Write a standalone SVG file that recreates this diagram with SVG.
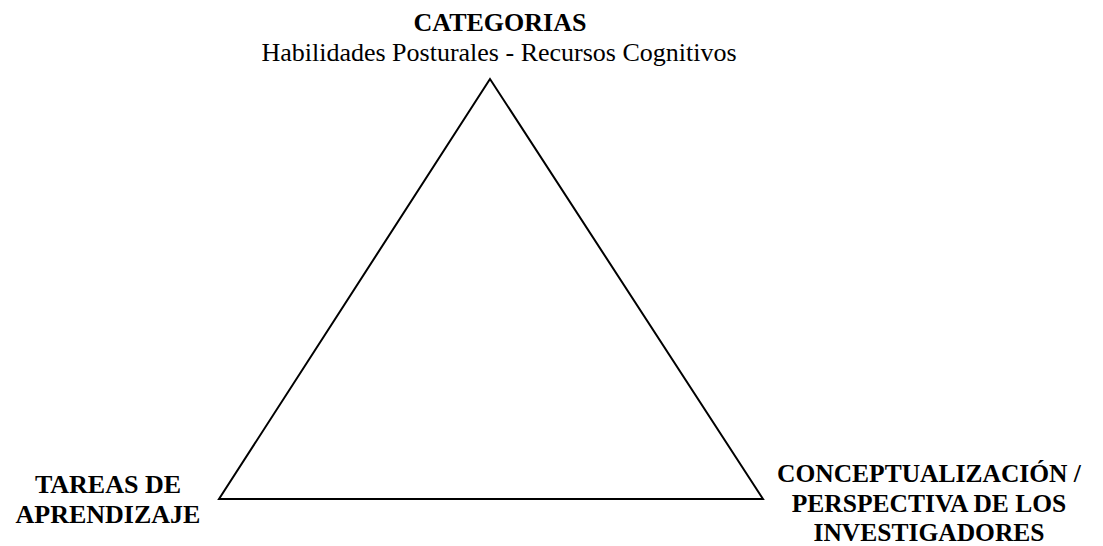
<svg xmlns="http://www.w3.org/2000/svg" width="1103" height="546" viewBox="0 0 1103 546">
<style>
text{font-family:"Liberation Serif","Times New Roman",serif;fill:#000;text-anchor:middle}
.b{font-weight:bold;font-size:26px}
.n{font-size:26px}
.r{font-weight:bold;font-size:25.5px}
.tri{fill:none;stroke:#000;stroke-width:2;stroke-linejoin:miter}
</style>
<rect width="1103" height="546" fill="#fff"/>
<g id="connectors">
<polygon class="tri" points="490,79 219,499 763,499"/>
</g>
<g id="categorias">
<text class="b" x="500" y="31">CATEGORIAS</text>
<text class="n" x="499" y="61">Habilidades Posturales - Recursos Cognitivos</text>
</g>
<g id="tareas">
<text class="b" x="108" y="493">TAREAS DE</text>
<text class="b" x="108" y="523">APRENDIZAJE</text>
</g>
<g id="conceptualizacion">
<text class="r" x="929" y="482">CONCEPTUALIZACIÓN /</text>
<text class="r" x="929" y="512">PERSPECTIVA DE LOS</text>
<text class="r" x="929" y="541">INVESTIGADORES</text>
</g>
</svg>
